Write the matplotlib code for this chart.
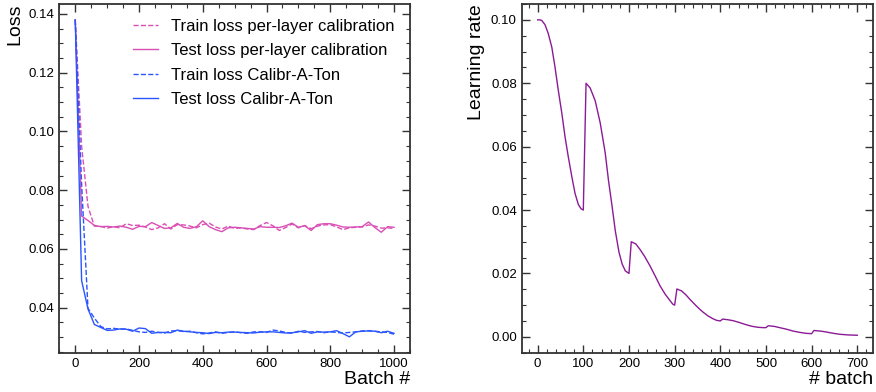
"""
Loss curves for the calibration runs and the learning-rate schedule.
"""
import matplotlib
matplotlib.use("Agg")
import matplotlib.pyplot as plt
from matplotlib.ticker import MultipleLocator

plt.rcParams['font.family'] = ['Liberation Sans', 'DejaVu Sans']

# batch index of the loss points (one every 20 batches)
batch = list(range(0, 1001, 20))

train_layer = [0.1380, 0.0950, 0.0745, 0.0678, 0.0677, 0.0671, 0.0676, 0.0672, 0.0686, 0.0680,
               0.0681, 0.0675, 0.0666, 0.0672, 0.0686, 0.0668, 0.0683, 0.0682, 0.0678, 0.0672,
               0.0683, 0.0688, 0.0675, 0.0668, 0.0678, 0.0670, 0.0672, 0.0668, 0.0666, 0.0680,
               0.0690, 0.0679, 0.0663, 0.0673, 0.0685, 0.0672, 0.0680, 0.0669, 0.0678, 0.0682,
               0.0683, 0.0675, 0.0666, 0.0672, 0.0674, 0.0675, 0.0682, 0.0678, 0.0671, 0.0672,
               0.0670]
test_layer = [0.1380, 0.0712, 0.0697, 0.0680, 0.0676, 0.0677, 0.0675, 0.0678, 0.0674, 0.0667,
              0.0677, 0.0676, 0.0690, 0.0680, 0.0670, 0.0672, 0.0687, 0.0674, 0.0670, 0.0676,
              0.0696, 0.0676, 0.0666, 0.0659, 0.0672, 0.0674, 0.0672, 0.0670, 0.0668, 0.0676,
              0.0674, 0.0674, 0.0673, 0.0679, 0.0688, 0.0674, 0.0679, 0.0663, 0.0683, 0.0686,
              0.0686, 0.0681, 0.0675, 0.0674, 0.0675, 0.0676, 0.0692, 0.0673, 0.0657, 0.0676,
              0.0674]
train_cat = [0.1380, 0.0820, 0.0398, 0.0365, 0.0336, 0.0328, 0.0330, 0.0327, 0.0328, 0.0323,
             0.0318, 0.0316, 0.0320, 0.0316, 0.0314, 0.0321, 0.0322, 0.0319, 0.0320, 0.0315,
             0.0311, 0.0314, 0.0318, 0.0313, 0.0316, 0.0318, 0.0315, 0.0313, 0.0318, 0.0318,
             0.0316, 0.0324, 0.0321, 0.0316, 0.0313, 0.0320, 0.0316, 0.0318, 0.0319, 0.0315,
             0.0318, 0.0316, 0.0314, 0.0316, 0.0318, 0.0321, 0.0322, 0.0320, 0.0318, 0.0316,
             0.0310]
test_cat = [0.1380, 0.0492, 0.0396, 0.0343, 0.0333, 0.0323, 0.0324, 0.0328, 0.0327, 0.0320,
            0.0331, 0.0329, 0.0313, 0.0316, 0.0316, 0.0315, 0.0324, 0.0320, 0.0318, 0.0316,
            0.0315, 0.0312, 0.0316, 0.0315, 0.0317, 0.0317, 0.0316, 0.0315, 0.0314, 0.0317,
            0.0318, 0.0318, 0.0316, 0.0314, 0.0315, 0.0318, 0.0322, 0.0313, 0.0318, 0.0317,
            0.0318, 0.0322, 0.0312, 0.0301, 0.0318, 0.0320, 0.0321, 0.0320, 0.0315, 0.0320,
            0.0313]

# learning rate schedule
lr_batch = [0, 5, 9, 16, 23, 31, 38, 45, 53, 60, 67, 75, 82, 89, 95, 100,
            106, 115, 126, 137, 148, 155, 163, 170, 178, 185, 192, 200,
            205, 215, 224, 235, 246, 257, 268, 279, 290, 296, 300,
            305, 315, 325, 333, 345, 355, 363, 373, 384, 392, 400,
            405, 416, 428, 440, 457, 470, 483, 494, 500,
            505, 518, 530, 545, 560, 574, 588, 600,
            605, 620, 633, 648, 662, 680, 700]
lr_values = [0.1000, 0.1000, 0.0998, 0.0985, 0.0958, 0.0914, 0.0851, 0.0780, 0.0705, 0.0631,
             0.0569, 0.0504, 0.0452, 0.0418, 0.0404, 0.0400,
             0.0800, 0.0785, 0.0745, 0.0675, 0.0580, 0.0495, 0.0412, 0.0335, 0.0268, 0.0230,
             0.0208, 0.0200,
             0.0300, 0.0293, 0.0276, 0.0252, 0.0224, 0.0193, 0.0161, 0.0135, 0.0114, 0.0103,
             0.0100,
             0.0151, 0.0145, 0.0132, 0.0119, 0.0101, 0.0087, 0.0077, 0.0066, 0.0057, 0.0052,
             0.0050,
             0.0056, 0.0054, 0.0051, 0.0046, 0.0038, 0.0033, 0.0030, 0.0029, 0.0029,
             0.0035, 0.0033, 0.0029, 0.0024, 0.0018, 0.0014, 0.0011, 0.0010,
             0.0020, 0.0018, 0.0015, 0.0011, 0.0008, 0.0006, 0.0005]

PINK = '#d94fb5'
BLUE = '#2a55ff'
PURPLE = '#8b1a96'


def style_axis(ax, xmaj, xmin, ymaj, ymin):
    # ROOT-like ticks: inward on all four sides
    ax.xaxis.set_major_locator(MultipleLocator(xmaj))
    ax.xaxis.set_minor_locator(MultipleLocator(xmin))
    ax.yaxis.set_major_locator(MultipleLocator(ymaj))
    ax.yaxis.set_minor_locator(MultipleLocator(ymin))
    ax.tick_params(which='both', direction='in', top=True, right=True, labelsize=9.5,
                   color='#333333')
    ax.tick_params(which='major', length=6, width=1.0)
    ax.tick_params(which='minor', length=3, width=0.8)
    for sp in ax.spines.values():
        sp.set_linewidth(1.3)
        sp.set_color('#333333')


fig = plt.figure(figsize=(8.76, 3.92), dpi=100)
ax1 = fig.add_axes([0.0677, 0.1003, 0.4003, 0.8895])
ax2 = fig.add_axes([0.5955, 0.1003, 0.4014, 0.8895])

ax1.plot(batch, train_layer, color=PINK, lw=1.0, ls='--', label='Train loss per-layer calibration')
ax1.plot(batch, test_layer, color=PINK, lw=1.0, label='Test loss per-layer calibration')
ax1.plot(batch, train_cat, color=BLUE, lw=1.0, ls='--', label='Train loss Calibr-A-Ton')
ax1.plot(batch, test_cat, color=BLUE, lw=1.0, label='Test loss Calibr-A-Ton')
style_axis(ax1, 200, 50, 0.02, 0.005)
ax1.set_xlim(-50, 1050)
ax1.set_ylabel('Loss', fontsize=14, loc='top')
ax1.set_xlabel('Batch #', fontsize=14, loc='right', labelpad=1)
ax1.legend(loc='upper right', frameon=False, fontsize=12, handlelength=1.5,
           handletextpad=0.8, labelspacing=0.56, borderaxespad=0.5)

ax2.plot(lr_batch, lr_values, color=PURPLE, lw=1.0)
style_axis(ax2, 100, 20, 0.02, 0.005)
ax2.set_xlim(-35, 735)
ax2.set_ylim(-0.005, 0.105)
ax2.set_ylabel('Learning rate', fontsize=14, loc='top')
ax2.set_xlabel('# batch', fontsize=14, loc='right', labelpad=1)

fig.savefig('out.png', dpi=100)
